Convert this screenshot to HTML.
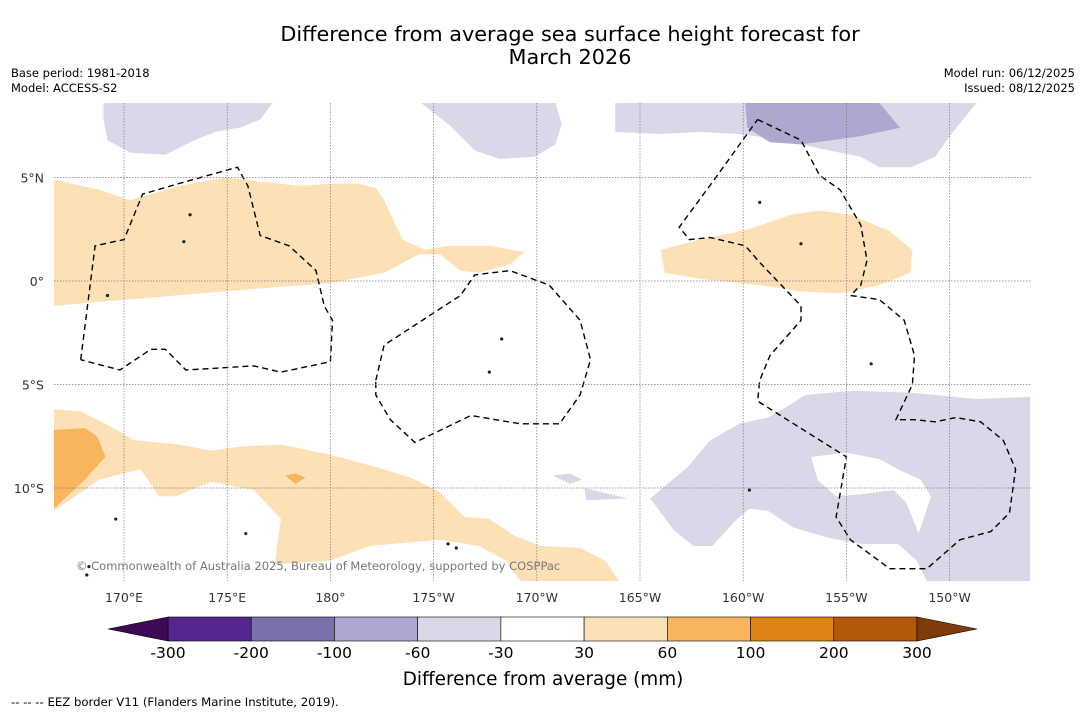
<!DOCTYPE html>
<html><head><meta charset="utf-8"><style>
body{margin:0;background:#fff;width:1085px;height:713px;overflow:hidden;font-family:"DejaVu Sans","Liberation Sans",sans-serif}
svg{position:absolute;left:0;top:0;font-family:"DejaVu Sans","Liberation Sans",sans-serif}
</style></head><body>
<svg id="s" width="1085" height="713">
<text x="570" y="41" font-size="20.8" text-anchor="middle">Difference from average sea surface height forecast for</text>
<text x="570" y="64" font-size="20.8" text-anchor="middle">March 2026</text>
<text x="11" y="77" font-size="11.5">Base period: 1981-2018</text>
<text x="11" y="92" font-size="11.5">Model: ACCESS-S2</text>
<text x="1075" y="77" font-size="11.5" text-anchor="end">Model run: 06/12/2025</text>
<text x="1075" y="92" font-size="11.5" text-anchor="end">Issued: 08/12/2025</text>
<g id="map"></g>
<g id="cb"></g>
<text x="543" y="685" font-size="18.4" text-anchor="middle">Difference from average (mm)</text>
<text x="11" y="706" font-size="11.7">--  --  -- EEZ border V11 (Flanders Marine Institute, 2019).</text>
</svg>
<script>
const lonTicks=[170,175,180,185,190,195,200,205,210];
const lonLabels=["170°E","175°E","180°","175°W","170°W","165°W","160°W","155°W","150°W"];
const latTicks=[5,0,-5,-10];
const latLabels=["5°N","0°","5°S","10°S"];
const cbBounds=[-300,-200,-100,-60,-30,30,60,100,200,300];
const cbColors=["#54278f","#7b6fac","#aca8d0","#d8d8e9","#ffffff","#fde0b6","#f9b45e","#e08214","#b35806"];
const cbExtend=["#3f0a55","#7f3b08"];
const orangeNorth=[[166.6,4.9],[168.8,4.4],[170.3,3.9],[172.7,4.6],[174.9,5.0],[176.6,4.8],[178.5,4.6],[180.0,4.7],[181.4,4.7],[182.2,4.5],[182.6,3.9],[183.5,2.0],[184.6,1.5],[185.8,1.7],[187.7,1.7],[189.4,1.4],[188.7,0.8],[187.2,0.4],[186.3,0.5],[185.3,1.3],[184.3,1.3],[182.6,0.4],[180.0,-0.1],[176.1,-0.4],[171.3,-0.8],[166.6,-1.2]];
const orangeEast=[[196.0,1.5],[197.9,2.0],[200.3,2.5],[202.3,3.2],[203.7,3.4],[205.2,3.2],[207.1,2.4],[208.2,1.5],[208.1,0.4],[206.6,-0.2],[204.7,-0.6],[202.8,-0.5],[200.8,-0.2],[197.9,0.1],[196.2,0.4]];
const orangeSouth=[[166.6,-6.2],[167.9,-6.3],[169.3,-7.0],[170.5,-7.7],[172.7,-7.9],[174.2,-8.2],[175.6,-8.0],[177.6,-7.9],[180.0,-8.4],[181.9,-8.9],[183.9,-9.5],[185.3,-10.2],[186.5,-11.4],[187.7,-11.5],[188.9,-12.3],[190.2,-12.8],[192.1,-12.9],[193.3,-13.5],[194.0,-14.5],[189.2,-14.5],[188.5,-13.5],[187.2,-12.8],[185.3,-12.5],[181.9,-12.8],[180.0,-13.5],[177.3,-13.7],[177.6,-11.5],[176.3,-10.1],[174.2,-9.7],[172.5,-10.4],[171.7,-10.4],[170.8,-9.1],[168.8,-9.6],[166.6,-11.1]];
const orange2West=[[166.6,-7.2],[168.1,-7.1],[168.7,-7.5],[169.1,-8.5],[168.1,-9.6],[166.6,-11.0]];
const orange2Blob=[[177.8,-9.4],[178.3,-9.3],[178.8,-9.5],[178.3,-9.8]];
const lavNW=[[169.0,8.6],[177.2,8.6],[176.6,7.8],[175.6,7.4],[174.4,7.2],[173.4,6.8],[172.0,6.1],[170.3,6.2],[169.2,6.8],[169.0,7.8]];
const lavNM=[[184.4,8.6],[190.9,8.6],[191.2,7.6],[190.9,6.6],[189.9,6.0],[188.2,5.9],[187.0,6.3],[185.8,7.5]];
const lavNE=[[193.8,8.6],[211.3,8.6],[210.0,7.0],[209.3,6.0],[208.1,5.5],[206.6,5.5],[205.7,6.0],[204.2,6.3],[202.8,6.6],[201.3,6.9],[199.8,7.1],[197.9,7.2],[196.0,7.1],[193.8,7.2]];
const purNE=[[200.1,8.6],[206.6,8.6],[207.6,7.4],[205.7,7.0],[202.8,6.6],[201.3,6.7],[200.2,7.4]];
const lavSE=[[203.0,-5.5],[205.3,-5.3],[208.2,-5.4],[211.3,-5.7],[213.9,-5.6],[213.9,-14.5],[208.9,-14.5],[208.4,-13.5],[207.5,-12.7],[205.7,-12.7],[204.1,-12.4],[202.4,-11.9],[201.2,-11.1],[200.3,-11.0],[199.7,-11.5],[198.5,-12.8],[197.6,-12.8],[196.6,-12.0],[195.5,-10.5],[197.3,-9.0],[198.4,-7.7],[199.8,-6.9],[201.2,-6.6],[202.4,-5.9]];
const holeSE=[[203.3,-8.5],[205.0,-8.3],[206.6,-8.6],[207.5,-9.1],[208.6,-9.6],[209.1,-10.4],[208.5,-12.2],[207.9,-10.7],[207.3,-10.1],[205.7,-10.3],[204.5,-10.4],[203.6,-9.6]];
const lavSmall1=[[190.8,-9.4],[191.6,-9.3],[192.2,-9.6],[191.6,-9.8]];
const lavSmall2=[[192.3,-10.0],[194.4,-10.5],[192.4,-10.6]];
const eezGilbert=[[167.9,-3.8],[168.6,1.7],[170.0,2.0],[170.9,4.2],[173.0,4.8],[175.5,5.5],[176.0,4.6],[176.6,2.2],[178.0,1.7],[179.3,0.5],[179.7,-1.2],[180.1,-1.9],[180.0,-3.9],[177.6,-4.4],[176.3,-4.1],[173.0,-4.3],[172.0,-3.3],[171.3,-3.3],[169.8,-4.3],[167.9,-3.8]];
const eezPhoenix=[[182.2,-4.8],[182.6,-3.1],[186.3,-0.7],[187.0,0.3],[188.7,0.5],[190.6,-0.2],[192.1,-1.9],[192.6,-3.8],[192.1,-5.5],[191.1,-6.9],[189.2,-6.9],[186.8,-6.5],[184.1,-7.8],[182.9,-6.7],[182.2,-5.5],[182.2,-4.8]];
const eezLine=[[200.7,7.8],[202.8,6.8],[203.7,5.1],[204.7,4.4],[205.7,2.7],[206.0,1.0],[205.7,-0.2],[205.2,-0.7],[206.6,-0.9],[207.8,-1.9],[208.3,-3.6],[208.2,-5.0],[207.4,-6.7],[208.3,-6.7],[209.3,-6.8],[210.3,-6.6],[211.5,-6.8],[212.6,-7.7],[213.2,-9.1],[212.9,-11.2],[212.0,-12.1],[210.5,-12.5],[208.9,-13.9],[207.1,-13.9],[205.2,-12.5],[204.5,-11.4],[205.0,-8.5],[200.7,-5.8],[200.8,-4.8],[201.3,-3.6],[202.8,-1.9],[202.8,-1.2],[200.8,0.9],[200.1,1.7],[198.4,2.1],[197.4,2.0],[196.9,2.6],[198.6,4.9],[200.7,7.8]];
const islands=[[186.1,-12.9],[185.7,-12.7],[168.3,-13.8],[168.2,-14.2],[175.9,-12.2],[169.2,-0.7],[172.9,1.9],[173.2,3.2],[200.8,3.8],[202.8,1.8],[188.3,-2.8],[187.7,-4.4],[169.6,-11.5],[206.2,-4.0],[200.3,-10.1]];

const X0=54,X1=1031,Y0=103,Y1=581;
const x=lon=>124+(lon-170)*20.64;
const y=lat=>281-lat*20.7;
const NS='http://www.w3.org/2000/svg';
const map=document.getElementById('map'),cb=document.getElementById('cb');
function mk(tag,attrs,parent){const e=document.createElementNS(NS,tag);for(const k in attrs)e.setAttribute(k,attrs[k]);parent.appendChild(e);return e;}
const pts=a=>a.map(p=>x(p[0]).toFixed(1)+','+y(p[1]).toFixed(1)).join(' ');
const defs=mk('defs',{},map);const cp=mk('clipPath',{id:'clip'},defs);mk('rect',{x:X0,y:Y0,width:X1-X0,height:Y1-Y0},cp);
const g=mk('g',{'clip-path':'url(#clip)'},map);
function poly(a,fill,name){const e=mk('polygon',{points:pts(a),fill:fill},g);

return e;}
poly(orangeNorth,cbColors[5],'anomaly-30-60-north');
poly(orangeEast,cbColors[5],'anomaly-30-60-east');
poly(orangeSouth,cbColors[5],'anomaly-30-60-south');
poly(orange2West,cbColors[6],'anomaly-60-100-west');
poly(orange2Blob,cbColors[6],'anomaly-60-100-blob');
poly(lavNW,cbColors[3],'anomaly-neg30-60-northwest');
poly(lavNM,cbColors[3],'anomaly-neg30-60-north');
poly(lavNE,cbColors[3],'anomaly-neg30-60-northeast');
poly(purNE,cbColors[2],'anomaly-neg60-100-northeast');
poly(lavSE,cbColors[3],'anomaly-neg30-60-southeast');
poly(holeSE,'#ffffff','neutral-hole-southeast');
poly(lavSmall1,cbColors[3],'anomaly-neg30-60-small-1');
poly(lavSmall2,cbColors[3],'anomaly-neg30-60-small-2');
islands.forEach(p=>{const e=mk('circle',{cx:x(p[0]),cy:y(p[1]),r:1.6,fill:'#222'},g);

});
lonTicks.forEach((t,i)=>{const l=mk('line',{x1:x(t),x2:x(t),y1:Y0,y2:Y1,stroke:'#777','stroke-width':0.7,'stroke-dasharray':'1.5,1.5'},map);


const tx=mk('text',{x:x(t),y:602,'font-size':12.5,fill:'#333','text-anchor':'middle'},map);tx.textContent=lonLabels[i];

});
latTicks.forEach((t,i)=>{const l=mk('line',{x1:X0,x2:X1,y1:y(t),y2:y(t),stroke:'#777','stroke-width':0.7,'stroke-dasharray':'1.5,1.5'},map);


const tx=mk('text',{x:44,y:y(t)+5,'font-size':12.5,fill:'#333','text-anchor':'end'},map);tx.textContent=latLabels[i];

});
[eezGilbert,eezPhoenix,eezLine].forEach(a=>{const e=mk('polyline',{points:pts(a),fill:'none',stroke:'#000','stroke-width':1.4,'stroke-dasharray':'6,4'},g);

});
const cr=mk('text',{x:76,y:570,'font-size':11.5,fill:'#777'},map);cr.textContent='© Commonwealth of Australia 2025, Bureau of Meteorology, supported by COSPPac';


const CB0=168,CB1=917,CBY=617,CBH=24,seg=(CB1-CB0)/cbColors.length;
cbColors.forEach((c,i)=>{const r=mk('rect',{x:CB0+i*seg,y:CBY,width:seg,height:CBH,fill:c,stroke:'#000','stroke-width':0.6},cb);

});
const tl=mk('polygon',{points:`${CB0},${CBY} ${CB0-60},${CBY+CBH/2} ${CB0},${CBY+CBH}`,fill:cbExtend[0],stroke:'#000','stroke-width':0.6},cb);


const tr=mk('polygon',{points:`${CB1},${CBY} ${CB1+60},${CBY+CBH/2} ${CB1},${CBY+CBH}`,fill:cbExtend[1],stroke:'#000','stroke-width':0.6},cb);


cbBounds.forEach((b,i)=>{const t=mk('text',{x:CB0+i*seg,y:658,'font-size':15.5,'text-anchor':'middle'},cb);t.textContent=b;

});
</script>
</body></html>
